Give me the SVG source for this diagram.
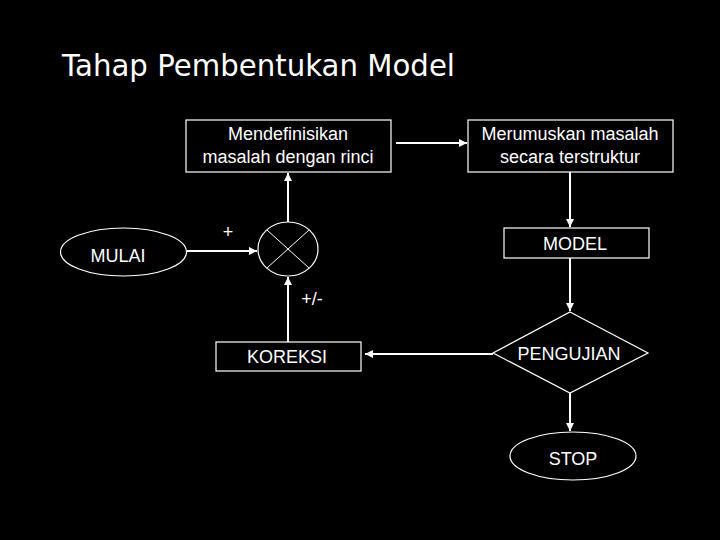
<svg xmlns="http://www.w3.org/2000/svg" width="720" height="540" viewBox="0 0 720 540">
<style>
.shape{fill:#000;stroke:#fff;stroke-width:1.2}
.line{stroke:#fff;stroke-width:2;fill:none}
.t{fill:#fff;font-family:"Liberation Sans",Arial,sans-serif;font-size:18px;text-anchor:middle}
.title{fill:#fff;font-family:"DejaVu Sans",sans-serif;font-size:30px}
</style>
<defs>
<marker id="ah" viewBox="0 0 10 10" refX="10" refY="5" markerWidth="4" markerHeight="4" orient="auto" markerUnits="strokeWidth">
<path d="M0,0 L10,5 L0,10 Z" fill="#fff"/>
</marker>
</defs>
<rect width="720" height="540" fill="#000"/>
<text class="title" x="62" y="76" textLength="393" lengthAdjust="spacingAndGlyphs">Tahap Pembentukan Model</text>

<g id="connectors">
<line class="line" x1="396" y1="143" x2="467" y2="143" marker-end="url(#ah)"/>
<line class="line" x1="288" y1="222" x2="288" y2="173" marker-end="url(#ah)"/>
<line class="line" x1="570" y1="172" x2="570" y2="227" marker-end="url(#ah)"/>
<line class="line" x1="187" y1="251" x2="257" y2="251" marker-end="url(#ah)"/>
<line class="line" x1="288" y1="342" x2="288" y2="277" marker-end="url(#ah)"/>
<line class="line" x1="570" y1="258" x2="570" y2="311" marker-end="url(#ah)"/>
<line class="line" x1="493" y1="354" x2="365" y2="354" marker-end="url(#ah)"/>
<line class="line" x1="570" y1="393" x2="570" y2="431" marker-end="url(#ah)"/>
<text class="t" x="228" y="238">+</text>
<text class="t" x="312" y="305">+/-</text>
</g>

<g id="box1">
<rect class="shape" x="186" y="120" width="205" height="52"/>
<text class="t" x="288" y="140">Mendefinisikan</text>
<text class="t" x="288" y="163">masalah dengan rinci</text>
</g>
<g id="box2">
<rect class="shape" x="468" y="120" width="205" height="52"/>
<text class="t" x="570" y="140">Merumuskan masalah</text>
<text class="t" x="570" y="163">secara terstruktur</text>
</g>
<g id="mulai">
<ellipse class="shape" cx="123.5" cy="252" rx="63" ry="24"/>
<text class="t" x="118" y="262">MULAI</text>
</g>
<g id="junction">
<ellipse class="shape" cx="288" cy="249" rx="30" ry="27"/>
<line stroke="#fff" stroke-width="1" x1="267" y1="230" x2="309" y2="268"/>
<line stroke="#fff" stroke-width="1" x1="309" y1="230" x2="267" y2="268"/>
</g>
<g id="model">
<rect class="shape" x="504" y="228" width="145" height="30"/>
<text class="t" x="575" y="250">MODEL</text>
</g>
<g id="koreksi">
<rect class="shape" x="216" y="342" width="145" height="29"/>
<text class="t" x="287" y="363">KOREKSI</text>
</g>
<g id="pengujian">
<polygon class="shape" points="570,312 648,353 570,393 493,353"/>
<text class="t" x="569" y="360">PENGUJIAN</text>
</g>
<g id="stop">
<ellipse class="shape" cx="573" cy="456" rx="63" ry="24"/>
<text class="t" x="573" y="465">STOP</text>
</g>
</svg>
